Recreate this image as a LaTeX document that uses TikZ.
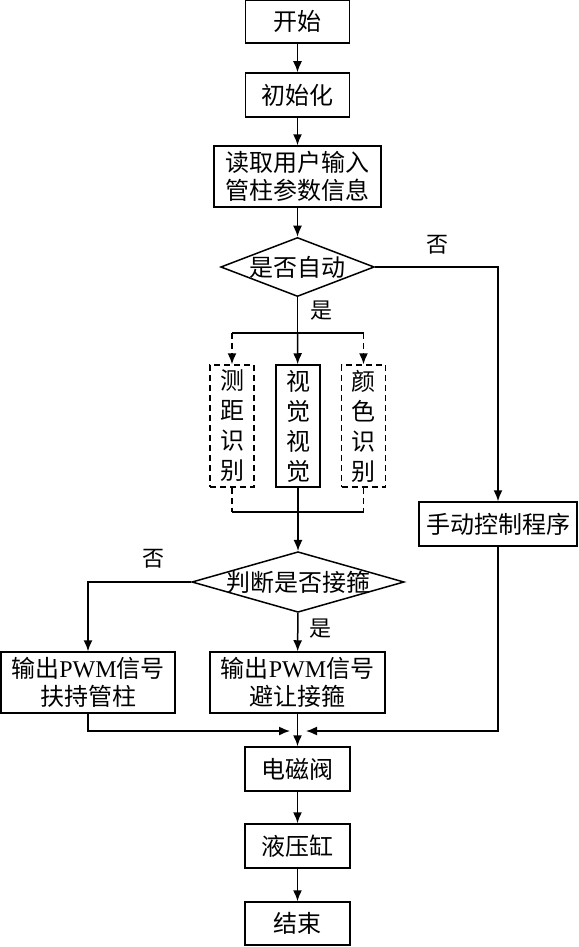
\documentclass[tikz,border=0pt]{standalone}
\usepackage{fontspec}
\setmainfont{Liberation Serif}
\newfontfamily\cjk{Noto Sans CJK SC}
\usetikzlibrary{shapes.geometric,arrows.meta}
\tikzset{
	>={Latex[length=11pt,width=9pt]},
}
\tikzstyle{block}=[draw,line width=1.5pt,inner sep=0pt,align=center,font=\cjk\fontsize{24}{28}\selectfont]
\tikzstyle{decision}=[draw,diamond,line width=1.5pt,inner sep=0pt,font=\cjk\fontsize{24}{28}\selectfont]
\tikzstyle{column}=[block,minimum width=44pt,minimum height=122pt,font=\cjk\fontsize{24}{30}\selectfont]
\tikzstyle{note}=[font=\cjk\fontsize{22}{24}\selectfont]
\tikzstyle{link}=[line width=1.5pt]
\tikzstyle{faint}=[line width=1.5pt,dash pattern=on 6pt off 4pt]
\newcommand{\lat}[1]{{\rmfamily #1}}

\begin{document}
\begin{tikzpicture}[x=1pt,y=-1pt]
      \useasboundingbox (0,0) rectangle (578,947);
      \node[block,minimum width=104pt,minimum height=43pt] (start) at (297.5,21.5) {开始};
      \node[block,minimum width=104pt,minimum height=44pt] (init) at (297.5,95) {初始化};
      \node[block,minimum width=167pt,minimum height=61pt] (input) at (297.5,176.5) {读取用户输入\\管柱参数信息};
      \node[decision,aspect=2.6] (auto) at (297.5,267) {是否自动};
      \node[block,minimum width=158pt,minimum height=44pt] (manual) at (498,524) {手动控制程序};
      \node[column,dash pattern=on 6pt off 4pt] (dist) at (232,426) {测\\距\\识\\别};
      \node[column] (vision) at (298,426) {视\\觉\\视\\觉};
      \node[column,dash pattern=on 6pt off 4pt] (color) at (363.5,426) {颜\\色\\识\\别};
      \node[decision,aspect=3.5,inner xsep=-5pt] (check) at (298,582) {判断是否接箍};
      \node[block,minimum width=174pt,minimum height=61pt] (hold) at (88,682.5) {输出\lat{PWM}信号\\扶持管柱};
      \node[block,minimum width=175pt,minimum height=61pt] (avoid) at (297.5,682.5) {输出\lat{PWM}信号\\避让接箍};
      \node[block,minimum width=105pt,minimum height=44pt] (valve) at (297.5,769) {电磁阀};
      \node[block,minimum width=105pt,minimum height=44pt] (cyl) at (297.5,846) {液压缸};
      \node[block,minimum width=105pt,minimum height=43pt] (finish) at (297.5,923.5) {结束};
      \coordinate (split) at (297.5,333);
      \coordinate (splitL) at (232,333);
      \coordinate (splitR) at (363.5,333);
      \coordinate (join) at (298,512);
      \coordinate (joinL) at (232,512);
      \coordinate (joinR) at (363.5,512);
      \coordinate (mergeL) at (290,731);
      \coordinate (mergeR) at (306,731);
      \draw[link,->] (start) -- (init);
      \draw[link,->] (init) -- (input);
      \draw[link,->] (input) -- (auto);
      \draw[link,->] (auto) -| (manual);
      \node[note] (no1) at (437,245) {否};
      \draw[link] (auto.south) -- (split);
      \node[note] (yes1) at (321,311) {是};
      \draw[link] (splitL) -- (splitR);
      \draw[link,->] (split) -- (vision);
      \draw[faint,->] (splitL) -- (dist);
      \draw[faint,->] (splitR) -- (color);
      \draw[faint] (dist) -- (joinL);
      \draw[faint] (color) -- (joinR);
      \draw[link] (joinL) -- (joinR);
      \draw[link,->] (vision) -- (check);
      \draw[link,->] (check) -| (hold);
      \node[note] (no2) at (153,559) {否};
      \draw[link,->] (check) -- (avoid);
      \node[note] (yes2) at (320,629) {是};
      \draw[link,->] (hold) |- (mergeL);
      \draw[link,->] (manual) |- (mergeR);
      \draw[link,->] (avoid) -- (valve);
      \draw[link,->] (valve) -- (cyl);
      \draw[link,->] (cyl) -- (finish);
    \end{tikzpicture}
\end{document}
